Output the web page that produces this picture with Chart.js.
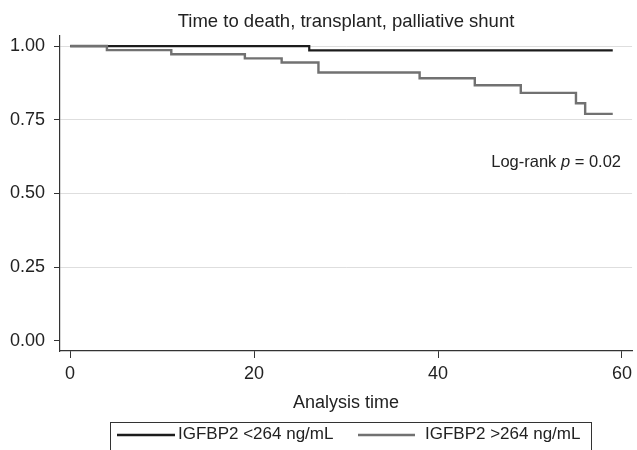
<!DOCTYPE html>
<html>
<head>
<meta charset="utf-8">
<script src="https://cdn.jsdelivr.net/npm/chart.js@4/dist/chart.umd.min.js"></script>
<style>
  html, body { margin: 0; padding: 0; background: #fff; }
  canvas { display: block; }
</style>
</head>
<body>
<canvas id="kmChart" width="637" height="450"></canvas>
<script>
// Kaplan-Meier steps (time, survival)
const lowTime = [0, 26, 59];
const lowSurv = [1.0, 0.985, 0.985];
const highTime = [0, 4, 11, 19, 23, 27, 38, 44, 49, 55, 56, 59];
const highSurv = [1.0, 0.986, 0.972, 0.958, 0.944, 0.910, 0.891, 0.867, 0.841, 0.806, 0.770, 0.770];

const xTicks = [0, 20, 40, 60];
const yTicks = [0, 0.25, 0.5, 0.75, 1.0];
const seriesLabels = ['IGFBP2 <264 ng/mL', 'IGFBP2 >264 ng/mL'];
const chartTitle = 'Time to death, transplant, palliative shunt';
const xTitle = 'Analysis time';

const FONT = '"Liberation Sans", Arial, Helvetica, sans-serif';
const AXIS = '#333333';
const GRID = '#dedede';
const DARK = '#1c1c1c';
const GREY = '#717171';

Chart.defaults.font.family = FONT;
Chart.defaults.color = '#222';

function toPoints(xs, ys) {
    return xs.map((x, i) => ({ x: x, y: ys[i] }));
}

// titles, annotation and boxed legend, drawn like the Stata original
const annotations = {
    id: 'annotations',
    afterDraw(chart) {
        const ctx = chart.ctx;
        const area = chart.chartArea;
        const mid = (area.left + area.right) / 2;
        ctx.save();
        ctx.fillStyle = '#222';
        ctx.textBaseline = 'alphabetic';

        ctx.textAlign = 'center';
        ctx.font = '18.5px ' + FONT;
        ctx.fillText(chartTitle, mid, 27);
        ctx.font = '18px ' + FONT;
        ctx.fillText(xTitle, mid, 408);

        // Log-rank p = 0.02 with italic p
        const parts = [['Log-rank ', 'normal'], ['p', 'italic'], [' = 0.02', 'normal']];
        ctx.textAlign = 'left';
        let total = 0;
        parts.forEach(p => {
            ctx.font = p[1] + ' 16.5px ' + FONT;
            total += ctx.measureText(p[0]).width;
        });
        let x = 621 - total;
        parts.forEach(p => {
            ctx.font = p[1] + ' 16.5px ' + FONT;
            ctx.fillText(p[0], x, 167);
            x += ctx.measureText(p[0]).width;
        });

        // legend box
        ctx.strokeStyle = AXIS;
        ctx.lineWidth = 1;
        ctx.strokeRect(110.5, 422.5, 481, 40);
        const items = [
            { x0: 117, x1: 175, tx: 178, color: DARK },
            { x0: 358, x1: 415, tx: 425, color: GREY }
        ];
        ctx.font = '17px ' + FONT;
        items.forEach((it, i) => {
            ctx.strokeStyle = it.color;
            ctx.lineWidth = 2.5;
            ctx.beginPath();
            ctx.moveTo(it.x0, 435);
            ctx.lineTo(it.x1, 435);
            ctx.stroke();
            ctx.fillText(seriesLabels[i], it.tx, 439);
        });
        ctx.restore();
    }
};

const kmCtx = document.getElementById('kmChart').getContext('2d');
const kmChart = new Chart(kmCtx, {
    type: 'line',
    data: {
        datasets: [{
            label: seriesLabels[0],
            data: toPoints(lowTime, lowSurv),
            borderColor: DARK,
            borderWidth: 2.2,
            stepped: true,
            pointRadius: 0,
            fill: false,
            order: 1
        }, {
            label: seriesLabels[1],
            data: toPoints(highTime, highSurv),
            borderColor: GREY,
            borderWidth: 2.4,
            stepped: true,
            pointRadius: 0,
            fill: false,
            order: 0
        }]
    },
    plugins: [annotations],
    options: {
        responsive: false,
        animation: false,
        layout: { padding: { top: 36, right: 2, left: 0, bottom: 0 } },
        plugins: {
            legend: { display: false },
            title: { display: false },
            tooltip: { enabled: false }
        },
        scales: {
            x: {
                type: 'linear',
                min: -1.1,
                max: 61.1,
                afterBuildTicks: axis => { axis.ticks = xTicks.map(v => ({ value: v })); },
                afterFit: axis => { axis.height = 99; },
                grid: { drawOnChartArea: false, color: AXIS, tickColor: AXIS, tickLength: 7 },
                border: { color: AXIS, width: 1.2 },
                ticks: { font: { size: 18 }, color: '#222', padding: 5, maxRotation: 0 }
            },
            y: {
                min: -0.034,
                max: 1.034,
                afterBuildTicks: axis => { axis.ticks = yTicks.map(v => ({ value: v })); },
                afterFit: axis => { axis.width = 60; },
                grid: {
                    color: c => (c.tick && c.tick.value === 0) ? 'rgba(0,0,0,0)' : GRID,
                    tickColor: AXIS,
                    tickLength: 6
                },
                border: { color: AXIS, width: 1.2 },
                ticks: {
                    font: { size: 18 },
                    color: '#222',
                    padding: 9,
                    callback: v => v.toFixed(2)
                }
            }
        }
    }
});
</script>
</body>
</html>
